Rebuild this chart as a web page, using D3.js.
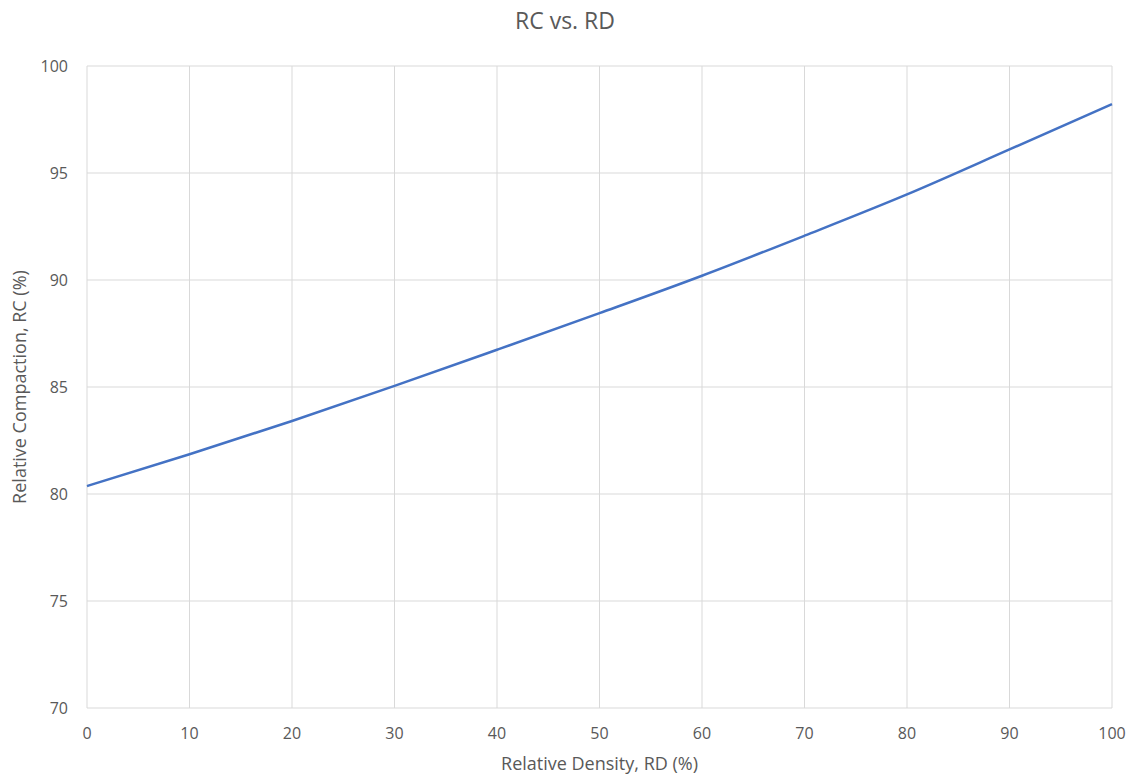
<!DOCTYPE html>
<html lang="en">
<head>
    <meta charset="UTF-8">
    <title>RC vs. RD</title>
    <style>
        body { margin: 0; background: #fff; }
        text { font-family: "Open Sans", "Noto Sans", sans-serif; fill: #595959; }
        .grid line { stroke: #d9d9d9; stroke-width: 1px; }
        .curve { fill: none; stroke: #4472c4; stroke-width: 2.5px; }
    </style>
    <script src="https://d3js.org/d3.v7.min.js"></script>
</head>
<body>
    <svg width="1127" height="776"></svg>
    <script>
        // Values
        const rd = [0, 10, 20, 30, 40, 50, 60, 70, 80, 90, 100];
        const rc = [80.37, 81.86, 83.41, 85.05, 86.74, 88.45, 90.2, 92.07, 94.0, 96.1, 98.22];
        const xTicks = [0, 10, 20, 30, 40, 50, 60, 70, 80, 90, 100];
        const yTicks = [70, 75, 80, 85, 90, 95, 100];

        const width = 1127, height = 776;
        const margin = { top: 66, right: 15, bottom: 68, left: 87 };

        const svg = d3.select("svg");

        const x = d3.scaleLinear().domain([0, 100]).range([margin.left, width - margin.right]);
        const y = d3.scaleLinear().domain([70, 100]).range([height - margin.bottom, margin.top]);

        // Gridlines
        const grid = svg.append("g").attr("class", "grid");
        grid.selectAll(".gx")
            .data(xTicks)
            .enter().append("line")
            .attr("x1", d => x(d)).attr("x2", d => x(d))
            .attr("y1", y(100)).attr("y2", y(70));
        grid.selectAll(".gy")
            .data(yTicks)
            .enter().append("line")
            .attr("x1", x(0)).attr("x2", x(100))
            .attr("y1", d => y(d)).attr("y2", d => y(d));

        // Tick labels
        svg.append("g").selectAll("text")
            .data(xTicks)
            .enter().append("text")
            .attr("x", d => x(d))
            .attr("y", y(70) + 25)
            .attr("dy", "0.35em")
            .attr("text-anchor", "middle")
            .style("font-size", "16px")
            .text(d => d);

        svg.append("g").selectAll("text")
            .data(yTicks)
            .enter().append("text")
            .attr("x", x(0) - 19)
            .attr("y", d => y(d))
            .attr("dy", "0.35em")
            .attr("text-anchor", "end")
            .style("font-size", "16px")
            .text(d => d);

        // Curve
        const pts = rd.map((d, i) => [d, rc[i]]);
        svg.append("path")
            .datum(pts)
            .attr("class", "curve")
            .attr("d", d3.line()
                .x(d => x(d[0]))
                .y(d => y(d[1]))
                .curve(d3.curveMonotoneX));

        // Titles
        svg.append("text")
            .attr("x", 565)
            .attr("y", 21)
            .attr("dy", "0.35em")
            .attr("text-anchor", "middle")
            .style("font-size", "23px")
            .text("RC vs. RD");

        svg.append("text")
            .attr("x", (x(0) + x(100)) / 2)
            .attr("y", 764)
            .attr("dy", "0.35em")
            .attr("text-anchor", "middle")
            .style("font-size", "18px")
            .text("Relative Density, RD (%)");

        svg.append("text")
            .attr("transform", `translate(20,${(y(70) + y(100)) / 2}) rotate(-90)`)
            .attr("dy", "0.35em")
            .attr("text-anchor", "middle")
            .style("font-size", "18px")
            .text("Relative Compaction, RC (%)");
    </script>
</body>
</html>
